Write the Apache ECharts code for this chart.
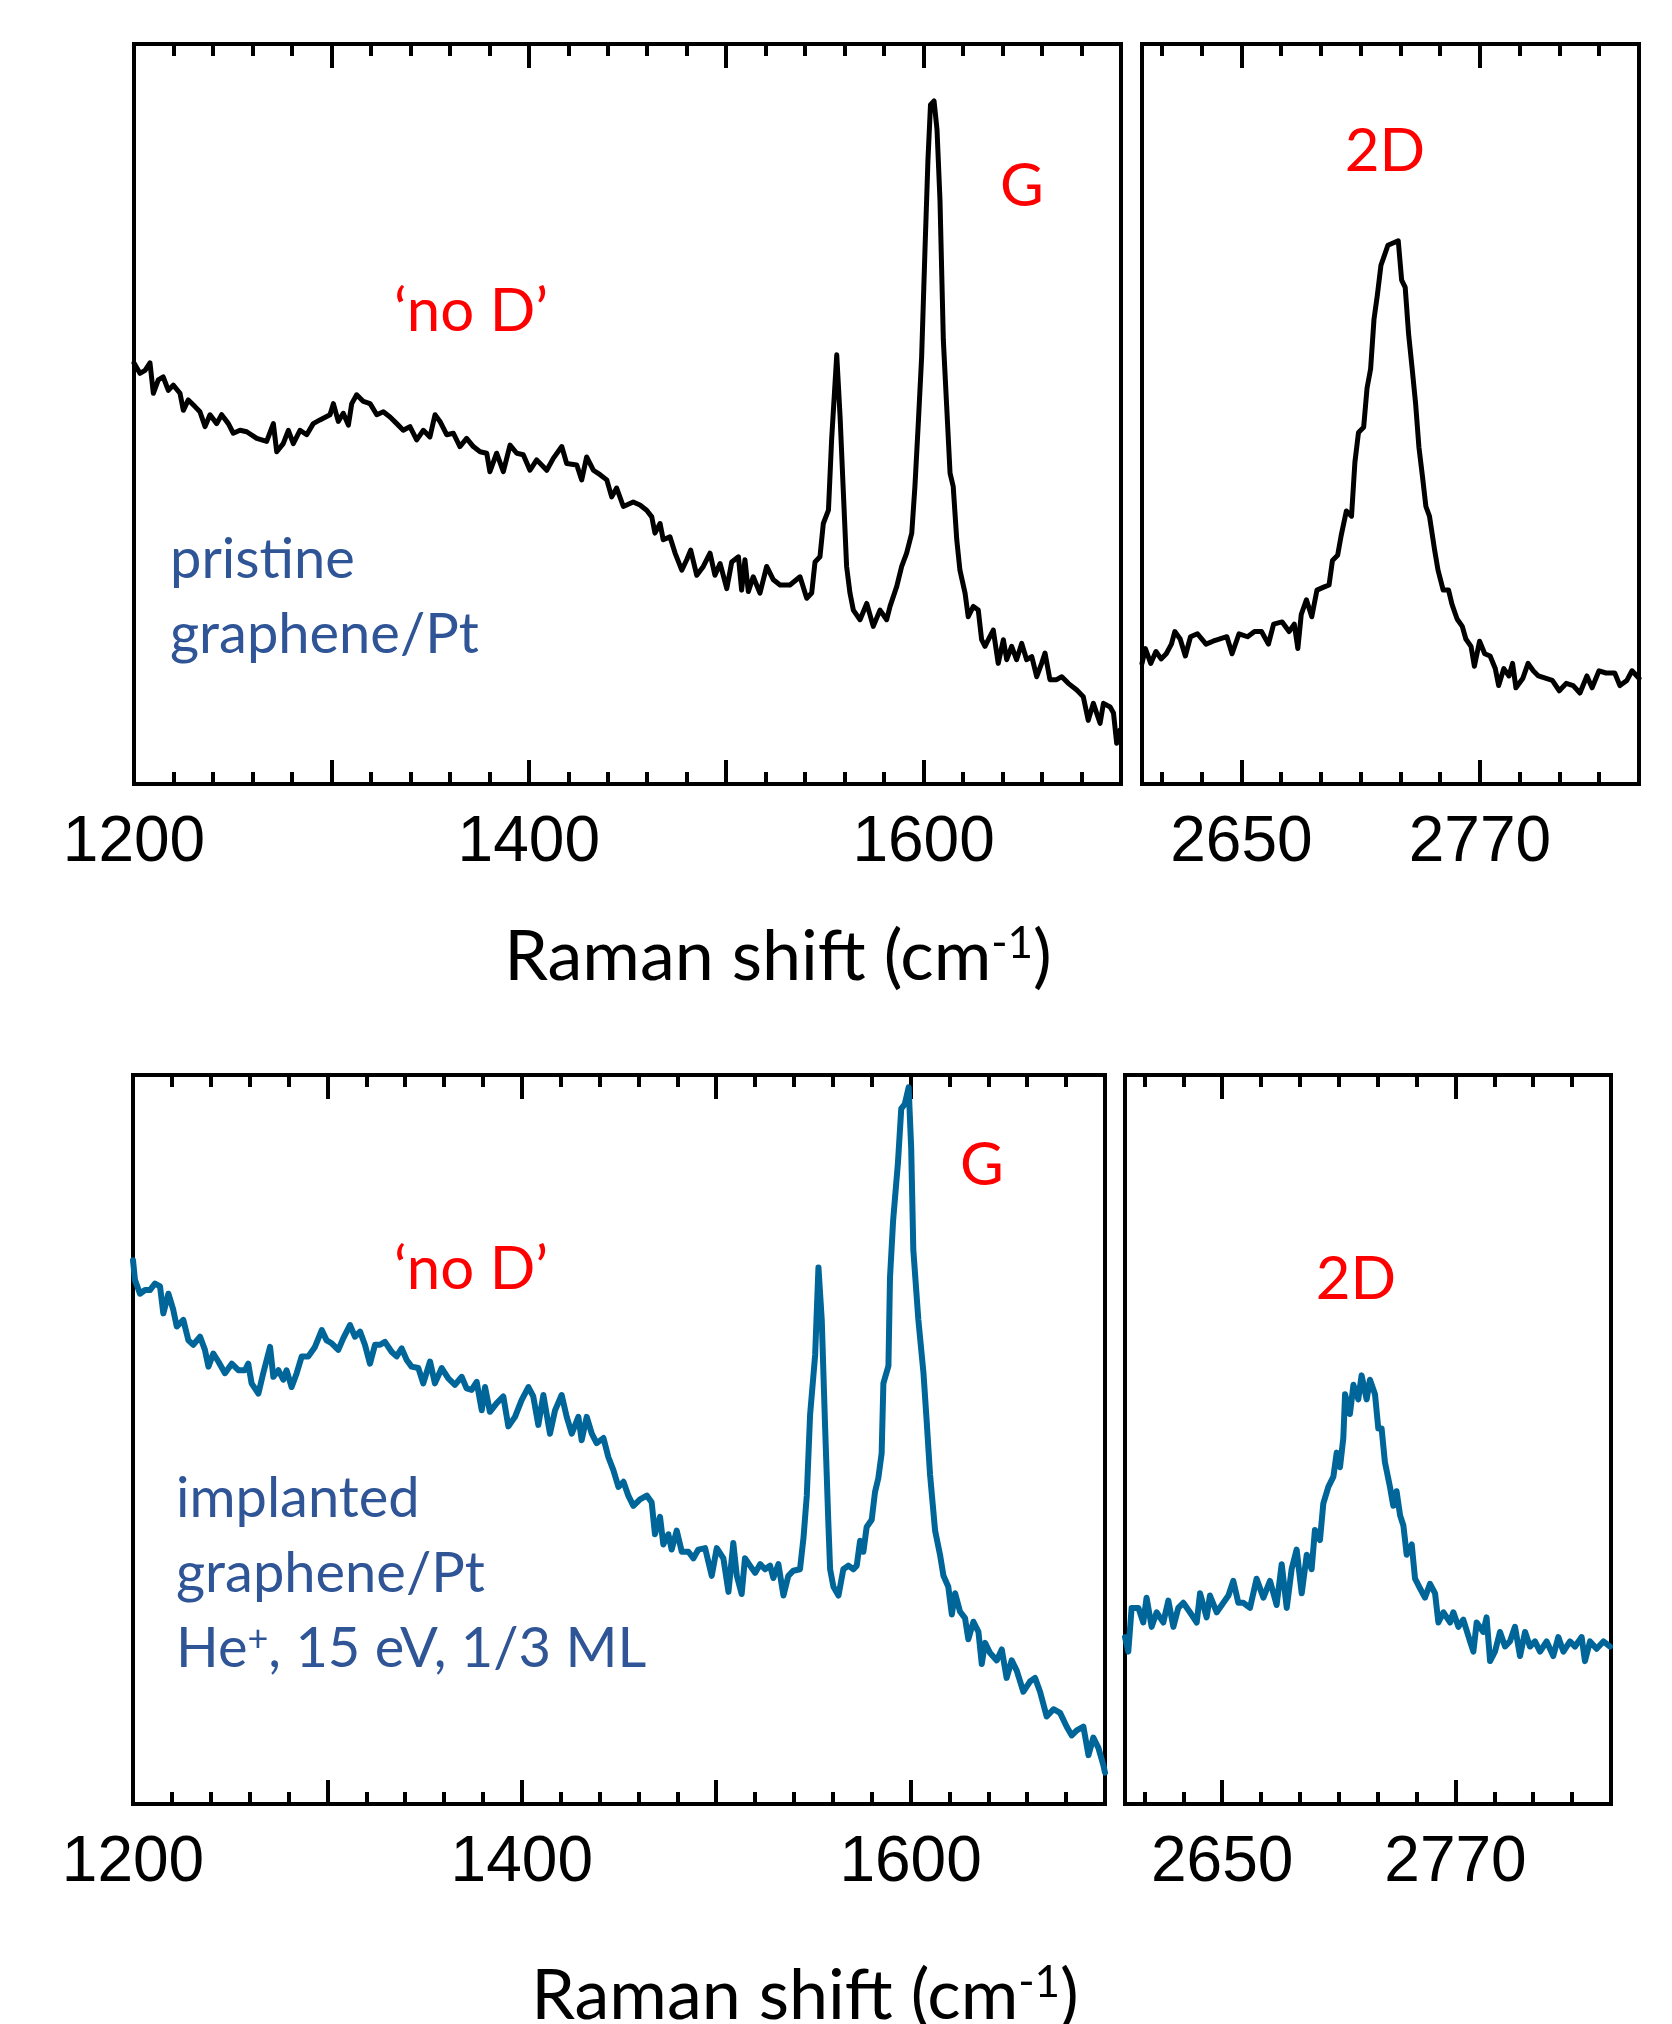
<!DOCTYPE html>
<html>
<head>
<meta charset="utf-8">
<title>Raman spectra graphene/Pt</title>
<script src="https://cdn.jsdelivr.net/npm/echarts@6.0.0/dist/echarts.min.js"></script>
<style>
  html, body { margin: 0; padding: 0; background: #fff; }
  #chart { width: 1672px; height: 2024px; }
</style>
</head>
<body>
<div id="chart"></div>
<script>
// tick positions / labels (cm-1)
const gMinorTicks = [1220, 1240, 1260, 1280, 1320, 1340, 1360, 1380, 1420, 1440, 1460, 1480, 1520, 1540, 1560, 1580, 1620, 1640, 1660, 1680];
const gMajorTicks = [1300, 1400, 1500, 1600];
const gTickLabels = [1200, 1400, 1600];
const d2MinorTicks = [2610, 2630, 2670, 2690, 2710, 2730, 2750, 2790, 2810, 2830];
const d2MajorTicks = [2650, 2770];
const d2TickLabels = [2650, 2770];

// spectra, [Raman shift, intensity (a.u., 0-100 of panel height)]
const pristineG = [
  [1200, 56.9], [1203, 55.5], [1205.6, 55.9], [1208.1, 56.9], [1209.8, 52.8], [1212.3, 54.6], [1214.8, 55.0], [1217.4, 53.2],
  [1219.9, 53.9], [1223.3, 52.8], [1225, 50.5], [1227.5, 51.9], [1230.9, 51.0], [1233.4, 50.3], [1236, 48.3], [1238.5, 49.9],
  [1241.9, 48.7], [1244.4, 49.9], [1247.8, 48.7], [1250.3, 47.4], [1253.7, 47.8], [1257.1, 47.6], [1262.2, 46.7], [1267.2, 46.3],
  [1270.6, 48.7], [1272.3, 44.9], [1275.6, 46.0], [1278.2, 47.8], [1280.7, 46.0], [1284.1, 47.8], [1287.5, 47.2], [1290.8, 48.7],
  [1294.2, 49.2], [1299.3, 49.9], [1301, 51.4], [1303.5, 49.0], [1306, 50.1], [1308.6, 48.5], [1310.3, 51.4], [1312.8, 52.6],
  [1316.2, 51.7], [1319.6, 51.4], [1323, 49.9], [1326.3, 50.3], [1329.7, 49.6], [1333.1, 48.7], [1336.4, 47.8], [1339.8, 48.3],
  [1343.2, 46.5], [1346.6, 47.8], [1349.9, 46.9], [1352.5, 49.9], [1355, 49.0], [1358.4, 47.2], [1361.8, 47.4], [1365.1, 45.6],
  [1368.5, 46.7], [1371.9, 45.6], [1375.3, 44.9], [1378.7, 44.7], [1380.3, 42.2], [1383.7, 44.7], [1387.1, 42.2], [1390.5, 45.8],
  [1393.9, 44.7], [1397.2, 44.5], [1400.6, 42.4], [1404, 43.8], [1409.1, 42.4], [1412.4, 44.0], [1416.7, 45.6], [1419.2, 43.3],
  [1424.3, 43.1], [1426.8, 41.1], [1429.3, 44.2], [1432.7, 42.4], [1436.1, 41.8], [1439.5, 41.1], [1442, 38.8], [1444.5, 40.0],
  [1447.9, 37.5], [1452.9, 38.1], [1456.3, 37.7], [1459.7, 37.0], [1462.3, 36.1], [1463.9, 33.9], [1466.5, 35.2], [1468.1, 33.0],
  [1471.5, 33.4], [1474.1, 31.2], [1477.5, 28.9], [1480, 30.3], [1482, 31.6], [1485.1, 28.2], [1488.4, 29.4], [1491.8, 31.2],
  [1494.3, 28.2], [1496.9, 29.8], [1500.3, 26.4], [1502.8, 30.0], [1506.2, 30.7], [1507.8, 26.2], [1509.5, 30.3], [1511.2, 26.0],
  [1513.7, 28.0], [1517.1, 25.8], [1520.5, 29.4], [1523.9, 27.6], [1527.3, 26.9], [1532.3, 26.9], [1537.4, 28.0], [1540.8, 25.1],
  [1543.3, 25.8], [1545, 30.0], [1547.5, 30.7], [1549.2, 35.2], [1551.8, 37.0], [1553.4, 46.5], [1556, 58.0], [1557.7, 49.6],
  [1559.3, 39.7], [1561, 29.4], [1562.7, 25.8], [1564.4, 23.5], [1567.8, 22.2], [1571.2, 24.4], [1574.5, 21.3], [1577.9, 23.5],
  [1581.3, 22.2], [1583, 24.0], [1586.4, 26.7], [1588.9, 29.4], [1591.4, 31.2], [1594, 33.9], [1595.6, 40.2], [1597.3, 48.7],
  [1599, 57.7], [1600.7, 72.2], [1602.2, 84.3], [1603.5, 91.8], [1605.3, 92.3], [1606.8, 88.4], [1608.3, 78.9], [1610, 60.0],
  [1611.7, 51.0], [1613.4, 42.0], [1615, 40.2], [1616.8, 33.0], [1618.4, 28.9], [1621, 25.8], [1622.6, 22.6], [1625.2, 24.0],
  [1627.7, 23.5], [1629.4, 19.5], [1631.1, 18.6], [1632.8, 19.5], [1635.3, 20.8], [1637.8, 16.3], [1640.4, 19.5], [1642.1, 16.8],
  [1644.6, 18.6], [1647.1, 16.8], [1649.7, 19.0], [1652.2, 16.8], [1654.8, 17.2], [1657.3, 14.5], [1659.8, 16.3], [1661.5, 17.7],
  [1664, 14.1], [1667.4, 14.1], [1670, 14.5], [1673.3, 13.6], [1677.6, 12.7], [1680.9, 11.8], [1683.4, 8.6], [1686, 10.9],
  [1689.4, 8.2], [1691.1, 10.9], [1694.5, 10.4], [1696.2, 9.6], [1697.8, 5.5], [1699.5, 7.3]
];

const pristine2D = [
  [2600, 16.3], [2601.7, 18.3], [2604.4, 16.3], [2607, 17.9], [2609.6, 16.9], [2612.2, 17.6], [2614.8, 18.9], [2616.5, 20.6],
  [2619.2, 19.6], [2621.8, 17.3], [2624.4, 19.9], [2627.9, 20.3], [2632.2, 18.9], [2635.7, 19.3], [2639.2, 19.6], [2642.7, 19.9],
  [2645.3, 17.6], [2648.8, 20.3], [2653.1, 19.9], [2656.6, 20.6], [2660.1, 20.6], [2663.6, 18.9], [2666.2, 21.6], [2670.5, 21.9],
  [2674, 20.6], [2676.6, 21.6], [2678.4, 18.3], [2680.1, 22.9], [2682.7, 24.9], [2685.4, 22.6], [2688, 26.2], [2691.4, 26.6],
  [2694.1, 26.9], [2695.8, 30.2], [2698.4, 30.9], [2700.2, 33.6], [2702.8, 36.9], [2705.4, 36.2], [2707.1, 43.5], [2708.9, 47.5],
  [2711.5, 48.2], [2713.2, 53.5], [2715, 56.1], [2716.7, 62.8], [2718.4, 66.1], [2720.2, 70.1], [2721.9, 71.4], [2723.7, 72.8],
  [2726.3, 73.1], [2728.9, 73.4], [2730.6, 68.1], [2732.4, 67.1], [2734.1, 60.8], [2735.9, 56.1], [2737.6, 51.5], [2739.3, 45.5],
  [2741.1, 41.5], [2742.8, 37.5], [2744.6, 36.2], [2747.2, 31.6], [2748.9, 28.9], [2751.5, 26.2], [2754.2, 26.2], [2755.9, 24.3],
  [2758.5, 22.3], [2761.1, 21.3], [2762.9, 19.6], [2765.5, 18.6], [2767.2, 15.9], [2769.8, 19.3], [2772.4, 17.6], [2775.1, 17.3],
  [2777.7, 15.6], [2779.4, 13.3], [2782, 15.6], [2784.6, 14.6], [2786.4, 16.3], [2788.1, 13.0], [2791.6, 14.3], [2794.2, 16.3],
  [2796.8, 15.3], [2799.4, 14.6], [2802.9, 14.3], [2806.4, 14.0], [2809.9, 12.6], [2813.4, 13.6], [2816.9, 13.3], [2820.3, 12.3],
  [2823.8, 14.6], [2826.4, 13.0], [2829.9, 15.3], [2833.4, 15.0], [2837.8, 15.0], [2840.4, 13.3], [2843.9, 14.0], [2846.5, 15.3],
  [2850, 14.3]
];

const implantedG = [
  [1200, 74.6], [1201, 71.9], [1203.6, 70.0], [1206.2, 70.5], [1208.7, 70.5], [1211.3, 71.4], [1213.9, 71.0], [1215.6, 67.3],
  [1218.2, 70.0], [1220.7, 67.8], [1222.5, 65.5], [1225.9, 66.4], [1228.5, 63.6], [1231, 63.0], [1234.5, 64.1], [1237, 62.3],
  [1238.8, 60.0], [1241.3, 61.8], [1243.9, 60.7], [1247.3, 59.1], [1250.8, 60.4], [1254.2, 59.5], [1257.6, 59.5], [1259.3, 60.4],
  [1261, 57.7], [1264.5, 56.3], [1267, 59.1], [1270.5, 62.7], [1272.2, 58.6], [1274.8, 59.5], [1277.3, 58.2], [1279, 59.5],
  [1281.6, 57.2], [1284.2, 59.1], [1286.8, 61.4], [1290.2, 61.4], [1293.6, 62.7], [1297.1, 65.0], [1299.6, 63.6], [1302.2, 63.2],
  [1305.6, 62.3], [1308.2, 63.9], [1311.6, 65.7], [1314.2, 64.1], [1316.8, 64.8], [1319.3, 63.0], [1321.9, 60.4], [1324.5, 63.0],
  [1327.1, 63.0], [1329.6, 63.4], [1333.1, 62.0], [1335.6, 61.4], [1338.2, 62.5], [1340.8, 60.9], [1343.3, 60.0], [1346.8, 59.8],
  [1349.3, 57.7], [1352.8, 60.7], [1355.3, 57.7], [1358.8, 59.8], [1362.2, 58.4], [1365.6, 57.5], [1369.1, 58.6], [1371.6, 57.0],
  [1374.2, 56.8], [1376.8, 57.9], [1379.4, 54.0], [1381.1, 57.2], [1383.6, 53.8], [1387.1, 55.0], [1390.5, 55.9], [1393.1, 51.8],
  [1396.5, 53.1], [1399.9, 55.4], [1403.4, 57.2], [1405.9, 55.9], [1408.5, 52.0], [1411.1, 56.1], [1414.5, 50.8], [1417.1, 54.0],
  [1420.5, 56.1], [1423.1, 53.1], [1425.7, 50.8], [1429.1, 53.1], [1430.8, 49.9], [1433.4, 53.1], [1436, 50.8], [1438.5, 49.5],
  [1442, 50.2], [1444.5, 47.6], [1447.1, 45.8], [1449.7, 43.5], [1452.3, 44.2], [1454.8, 42.3], [1457.4, 40.9], [1460.8, 41.8],
  [1464.3, 42.3], [1466.8, 41.4], [1468.5, 37.0], [1471.1, 39.4], [1472.8, 35.6], [1475.4, 37.0], [1477.1, 34.9], [1479.7, 37.5],
  [1482.3, 34.6], [1485.7, 34.6], [1488.3, 33.7], [1490.8, 34.9], [1494.3, 35.1], [1497.7, 31.3], [1500.3, 35.1], [1503.7, 33.7],
  [1506.3, 29.1], [1508.8, 35.8], [1510.6, 31.3], [1513.1, 28.8], [1514.8, 33.7], [1517.4, 32.7], [1520, 31.7], [1522.6, 32.9],
  [1525.1, 32.2], [1527.7, 32.7], [1529.4, 31.0], [1532, 32.9], [1534.6, 28.6], [1537.1, 31.3], [1539.7, 32.0], [1543.1, 32.2],
  [1544.9, 36.5], [1546.6, 42.3], [1548.3, 53.4], [1550.9, 61.6], [1552.6, 73.6], [1554.3, 66.4], [1556, 51.9], [1557.7, 38.5],
  [1558.6, 32.2], [1560.3, 29.8], [1562.9, 28.6], [1565.4, 32.2], [1568, 32.7], [1570.6, 32.2], [1572.3, 32.7], [1574, 36.1],
  [1575.7, 34.6], [1577.4, 38.0], [1580, 39.0], [1581.7, 42.8], [1583.4, 44.7], [1585.1, 48.1], [1586, 57.7], [1588.6, 60.1],
  [1589.4, 72.2], [1591, 80.0], [1593.5, 88.0], [1595.2, 95.4], [1597, 96.0], [1599, 98.3], [1600.3, 90.0], [1601.4, 76.0],
  [1604, 66.4], [1606.6, 59.2], [1608.3, 52.4], [1610, 45.2], [1612.6, 37.5], [1615.2, 34.1], [1616.9, 31.3], [1619.4, 29.8],
  [1621.2, 26.0], [1622.9, 28.9], [1625.4, 26.4], [1628, 25.5], [1629.7, 22.6], [1632.3, 25.0], [1634.9, 23.6], [1636.6, 19.2],
  [1638.3, 22.1], [1640.9, 20.7], [1644.3, 19.7], [1646.9, 21.2], [1649.4, 17.3], [1652, 19.7], [1654.6, 18.3], [1658, 15.4],
  [1661.4, 16.8], [1664, 17.3], [1666.6, 15.4], [1670, 12.0], [1673.5, 13.0], [1676.9, 12.5], [1680.3, 10.6], [1682.9, 9.4],
  [1685.5, 10.1], [1688.9, 10.6], [1691.5, 6.7], [1694, 9.1], [1696.6, 7.7], [1699.2, 5.3], [1700, 4.3]
];

const implanted2D = [
  [2600, 22.9], [2601.7, 20.9], [2603.4, 26.9], [2606.9, 26.9], [2609.4, 24.9], [2611.1, 28.3], [2613.7, 24.3], [2616.3, 26.3],
  [2619.7, 24.9], [2622.3, 27.9], [2624.9, 24.3], [2627.4, 26.9], [2630, 27.6], [2633.4, 26.3], [2636.9, 24.9], [2638.6, 28.9],
  [2642, 25.6], [2643.7, 28.6], [2647.2, 26.3], [2650.6, 27.6], [2653.2, 28.6], [2655.7, 30.6], [2658.3, 27.6], [2660.9, 27.6],
  [2664.3, 26.9], [2667.7, 30.9], [2671.2, 28.3], [2674.6, 30.6], [2678, 27.3], [2680.6, 32.9], [2683.2, 26.9], [2685.7, 32.2],
  [2688.3, 34.9], [2690.9, 28.9], [2693.5, 34.2], [2696, 32.2], [2697.7, 37.6], [2700.3, 36.2], [2702, 41.2], [2704.6, 43.5],
  [2707.2, 44.9], [2708.9, 48.2], [2710.6, 46.2], [2712.3, 50.2], [2713.2, 56.2], [2715.7, 53.5], [2717.5, 57.5], [2720, 55.5],
  [2721.7, 58.8], [2724.3, 55.5], [2726, 58.2], [2728.6, 56.2], [2730.3, 51.5], [2732, 51.5], [2733.7, 46.9], [2736.3, 43.5],
  [2738, 40.9], [2739.7, 42.9], [2741.5, 39.6], [2743.2, 38.2], [2744.9, 34.2], [2747.5, 35.6], [2749.2, 30.9], [2751.7, 29.6],
  [2754.3, 28.3], [2756.9, 30.2], [2759.5, 28.9], [2761.2, 24.9], [2763.8, 26.3], [2767.2, 24.9], [2768.9, 26.3], [2771.5, 24.3],
  [2774, 25.3], [2777.5, 22.3], [2779.2, 20.9], [2780.9, 24.9], [2784.3, 23.6], [2786, 25.6], [2787.8, 19.6], [2790.3, 20.9],
  [2792.9, 23.6], [2795.5, 21.6], [2798, 22.3], [2800.6, 24.3], [2803.2, 20.3], [2805.8, 23.6], [2808.3, 21.6], [2810.9, 22.3],
  [2813.5, 20.9], [2816.9, 22.3], [2820.3, 20.3], [2822.9, 22.9], [2825.5, 20.9], [2828.9, 22.3], [2831.5, 21.6], [2834.9, 22.9],
  [2836.6, 19.6], [2839.2, 22.3], [2842.6, 21.3], [2846.1, 22.3], [2849.5, 21.6]
];

const panels = [
  {box: {left: 134, top: 44, width: 987, height: 740}, min: 1200, max: 1700, minor: gMinorTicks, major: gMajorTicks, labels: gTickLabels, data: pristineG, color: '#000000', width: 5},
  {box: {left: 1142, top: 44, width: 497, height: 740}, min: 2600, max: 2850, minor: d2MinorTicks, major: d2MajorTicks, labels: d2TickLabels, data: pristine2D, color: '#000000', width: 5},
  {box: {left: 133, top: 1075, width: 972, height: 729}, min: 1200, max: 1700, minor: gMinorTicks, major: gMajorTicks, labels: gTickLabels, data: implantedG, color: '#006699', width: 6},
  {box: {left: 1125, top: 1075, width: 486, height: 729}, min: 2600, max: 2850, minor: d2MinorTicks, major: d2MajorTicks, labels: d2TickLabels, data: implanted2D, color: '#006699', width: 6}
];

function tickAxis(gridIndex, pos, p, ticks, len, withLabels) {
  return {
    gridIndex: gridIndex,
    type: 'value',
    position: pos,
    min: p.min,
    max: p.max,
    axisLine: {show: false, onZero: false},
    splitLine: {show: false},
    axisTick: {show: true, inside: true, length: len, customValues: ticks, lineStyle: {color: '#000', width: 4}},
    axisLabel: withLabels ? {
      show: true, customValues: p.labels, margin: 27, color: '#000',
      fontSize: 64, fontFamily: '"Liberation Sans", Arial, sans-serif',
      formatter: (v) => String(v)
    } : {show: false}
  };
}

let grids = [], xAxes = [], yAxes = [], series = [];
panels.forEach((p, i) => {
  grids.push(Object.assign({show: true, borderColor: '#000', borderWidth: 4, backgroundColor: 'transparent'}, p.box));
  yAxes.push({gridIndex: i, type: 'value', min: 0, max: 100, show: false});
  const first = xAxes.length;
  xAxes.push(tickAxis(i, 'bottom', p, p.minor, 12, false));
  xAxes.push(tickAxis(i, 'bottom', p, p.major, 24, true));
  xAxes.push(tickAxis(i, 'top', p, p.minor, 12, false));
  xAxes.push(tickAxis(i, 'top', p, p.major, 24, false));
  series.push({
    type: 'line',
    xAxisIndex: first + 1,
    yAxisIndex: i,
    data: p.data,
    showSymbol: false,
    symbol: 'none',
    lineStyle: {color: p.color, width: p.width, join: 'round', cap: 'round'}
  });
});

const LATO = 'Lato, "Open Sans", sans-serif';
const red = '#ff0000';
const blue = '#2f5597';

function label(x, y, text, color, size, align) {
  return {
    type: 'text', x: x, y: y, silent: true,
    style: {text: text, fill: color, fontSize: size, fontFamily: LATO,
            align: align || 'center', verticalAlign: 'middle',
            textAlign: align || 'center', textVerticalAlign: 'middle'}
  };
}

function richLabel(x, y, text, color, size, supSize) {
  return {
    type: 'text', x: x, y: y, silent: true,
    style: {
      text: text, align: 'center', verticalAlign: 'middle', textAlign: 'center', textVerticalAlign: 'middle',
      rich: {
        a: {fontSize: size, fontFamily: LATO, fill: color, color: color},
        s: {fontSize: supSize, fontFamily: LATO, fill: color, color: color, verticalAlign: 'top'}
      }
    }
  };
}

function richLeft(x, y, text, color, size, supSize) {
  let el = richLabel(x, y, text, color, size, supSize);
  el.style.align = 'left';
  el.style.textAlign = 'left';
  return el;
}

let option = {
  backgroundColor: '#ffffff',
  animation: false,
  grid: grids,
  xAxis: xAxes,
  yAxis: yAxes,
  series: series,
  graphic: [
    label(471, 312, '\u2018no D\u2019', red, 60),
    label(1022, 187, 'G', red, 60),
    label(1385, 152, '2D', red, 60),
    label(170, 560, 'pristine', blue, 56, 'left'),
    label(170, 635, 'graphene/Pt', blue, 56, 'left'),
    richLabel(778, 957, '{a|Raman shift (cm}{s|-1}{a|)}', '#000', 70, 44),

    label(471, 1270, '\u2018no D\u2019', red, 60),
    label(982, 1166, 'G', red, 60),
    label(1356, 1280, '2D', red, 60),
    label(176, 1499, 'implanted', blue, 56, 'left'),
    label(176, 1574, 'graphene/Pt', blue, 56, 'left'),
    richLeft(176, 1649, '{a|He}{s|+}{a|, 15 eV, 1/3 ML}', blue, 56, 36),
    richLabel(805, 1996, '{a|Raman shift (cm}{s|-1}{a|)}', '#000', 70, 44)
  ]
};

let chart = echarts.init(document.getElementById('chart'), null, {renderer: 'canvas'});
chart.setOption(option);
</script>
</body>
</html>
